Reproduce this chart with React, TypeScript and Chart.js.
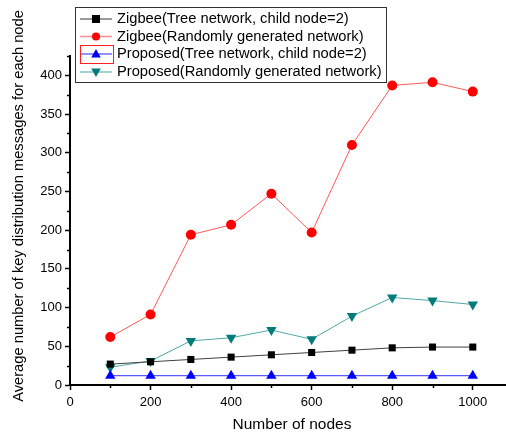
import React, { useEffect, useRef } from "react";
import { Chart, registerables } from "chart.js";

Chart.register(...registerables);

const nodes = [100, 200, 300, 400, 500, 600, 700, 800, 900, 1000];
const zigbeeTree = [27, 30, 33, 36, 39, 42, 45, 48, 49, 49];
const zigbeeRandom = [62, 91, 194, 207, 247, 197, 310, 387, 391, 379];
const proposedTree = [12, 12, 12, 12, 12, 12, 12, 12, 12, 12];
const proposedRandom = [23, 31, 57, 61, 71, 59, 89, 113, 109, 104];

const seriesNames = [
  "Zigbee(Tree network, child node=2)",
  "Zigbee(Randomly generated network)",
  "Proposed(Tree network, child node=2)",
  "Proposed(Randomly generated network)",
];
const xTitle = "Number of nodes";
const yTitle = "Average number of key distribution messages for each node";

const FONT = "'Liberation Sans', Arial, sans-serif";

const toPoints = (ys: number[]) => nodes.map((x, i) => ({ x, y: ys[i] }));

const styles = [
  { line: "#404040", marker: "#000000", shape: "rect", r: 5 },
  { line: "#ff5a5a", marker: "#ff0000", shape: "circle", r: 5 },
  { line: "#3030ff", marker: "#0000ff", shape: "triangle", r: 6 },
  { line: "#50a8a8", marker: "#007b7b", shape: "triangle", r: 6, rot: 180 },
];

function drawMarker(ctx: CanvasRenderingContext2D, shape: string, x: number, y: number, r: number, rot?: number) {
  ctx.beginPath();
  if (shape === "rect") {
    ctx.rect(x - r, y - r, 2 * r, 2 * r);
  } else if (shape === "circle") {
    ctx.arc(x, y, r, 0, Math.PI * 2);
  } else {
    const s = rot === 180 ? -1 : 1;
    ctx.moveTo(x, y - s * r);
    ctx.lineTo(x + r * 0.95, y + s * r * 0.7);
    ctx.lineTo(x - r * 0.95, y + s * r * 0.7);
    ctx.closePath();
  }
  ctx.fill();
}

const minorTicksPlugin = {
  id: "minorTicks",
  afterDraw(chart: any) {
    const ctx = chart.ctx as CanvasRenderingContext2D;
    const xs = chart.scales.x;
    const ys = chart.scales.y;
    ctx.save();
    ctx.strokeStyle = "#000";
    ctx.lineWidth = 1.5;
    ys.ticks.forEach((t: any) => {
      if (t.value % 50 !== 0) {
        const py = Math.round(ys.getPixelForValue(t.value)) + 0.5;
        ctx.beginPath();
        ctx.moveTo(ys.right, py);
        ctx.lineTo(ys.right - 3, py);
        ctx.stroke();
      }
    });
    xs.ticks.forEach((t: any) => {
      if (t.value % 200 !== 0) {
        const px = Math.round(xs.getPixelForValue(t.value)) + 0.5;
        ctx.beginPath();
        ctx.moveTo(px, xs.top);
        ctx.lineTo(px, xs.top + 3);
        ctx.stroke();
      }
    });
    // axis titles
    ctx.fillStyle = "#000";
    ctx.textAlign = "center";
    ctx.textBaseline = "middle";
    ctx.font = `15.5px ${FONT}`;
    ctx.fillText(xTitle, 292, 425);
    ctx.translate(19, 206);
    ctx.rotate(-Math.PI / 2);
    ctx.font = `14.7px ${FONT}`;
    ctx.fillText(yTitle, 0, 0);
    ctx.restore();
  },
};

const legendPlugin = {
  id: "customLegend",
  afterDraw(chart: any) {
    const ctx = chart.ctx as CanvasRenderingContext2D;
    ctx.save();
    const bx = 75.5, by = 7.5, bw = 311, bh = 75;
    ctx.fillStyle = "#fff";
    ctx.fillRect(bx, by, bw, bh);
    ctx.strokeStyle = "#333";
    ctx.lineWidth = 1;
    ctx.strokeRect(bx, by, bw, bh);
    const rows = [19, 36.5, 54, 72];
    chart.data.datasets.forEach((ds: any, i: number) => {
      const st = styles[i];
      const y = rows[i];
      ctx.strokeStyle = st.line;
      ctx.globalAlpha = 0.7;
      ctx.lineWidth = 1.5;
      ctx.beginPath();
      ctx.moveTo(80, y);
      ctx.lineTo(112, y);
      ctx.stroke();
      ctx.globalAlpha = 1;
      ctx.fillStyle = st.marker;
      drawMarker(ctx, st.shape, 96, y, st.shape === "triangle" ? 5 : 4, st.rot);
      ctx.fillStyle = "#000";
      ctx.font = `14.7px ${FONT}`;
      ctx.textBaseline = "middle";
      ctx.textAlign = "left";
      ctx.fillText(ds.label, 117, y);
    });
    ctx.strokeStyle = "#ff2020";
    ctx.lineWidth = 1;
    ctx.strokeRect(80.5, 45.5, 33, 18);
    ctx.restore();
  },
};

export default function App() {
  const ref = useRef<HTMLCanvasElement>(null);
  useEffect(() => {
    document.body.style.margin = "0";
    const allSeries = [zigbeeTree, zigbeeRandom, proposedTree, proposedRandom];
    const chart = new Chart(ref.current!, {
      type: "line",
      data: {
        datasets: allSeries.map((ys, i) => ({
          label: seriesNames[i],
          data: toPoints(ys),
          borderColor: styles[i].line,
          borderWidth: 1,
          backgroundColor: styles[i].marker,
          pointBackgroundColor: styles[i].marker,
          pointBorderColor: styles[i].marker,
          pointBorderWidth: 0,
          pointStyle: styles[i].shape as any,
          pointRadius: styles[i].r,
          pointRotation: styles[i].rot || 0,
          tension: 0,
        })),
      },
      options: {
        animation: false,
        responsive: false,
        devicePixelRatio: 1,
        layout: { autoPadding: false, padding: { top: 56, right: 1, left: 0, bottom: 0 } },
        plugins: { legend: { display: false }, tooltip: { enabled: false } },
        scales: {
          x: {
            type: "linear",
            min: 0,
            max: 1080,
            afterFit: (s: any) => {
              s.height = 51;
            },
            border: { color: "#000", width: 2 },
            grid: {
              drawOnChartArea: false,
              tickLength: 5,
              tickWidth: 1.5,
              tickColor: (c: any) => (c.tick && c.tick.value % 200 === 0 ? "#000" : "rgba(0,0,0,0)"),
            },
            ticks: {
              stepSize: 100,
              includeBounds: false,
              maxRotation: 0,
              autoSkip: false,
              padding: 5,
              color: "#000",
              font: { family: FONT, size: 13 },
              callback: (v: any) => (Number(v) % 200 === 0 ? String(v) : ""),
            },
            title: { display: false },
          },
          y: {
            type: "linear",
            min: 0,
            max: 425,
            afterFit: (s: any) => {
              s.width = 70;
            },
            border: { color: "#000", width: 2 },
            grid: {
              drawOnChartArea: false,
              tickLength: 5,
              tickWidth: 1.5,
              tickColor: (c: any) => (c.tick && c.tick.value % 50 === 0 ? "#000" : "rgba(0,0,0,0)"),
            },
            ticks: {
              stepSize: 25,
              includeBounds: false,
              autoSkip: false,
              padding: 3,
              color: "#000",
              font: { family: FONT, size: 13 },
              callback: (v: any) => (Number(v) % 50 === 0 ? String(v) : ""),
            },
            title: { display: false },
          },
        },
      },
      plugins: [minorTicksPlugin, legendPlugin],
    });
    return () => chart.destroy();
  }, []);
  return <canvas ref={ref} width={506} height={436} style={{ display: "block" }} />;
}
